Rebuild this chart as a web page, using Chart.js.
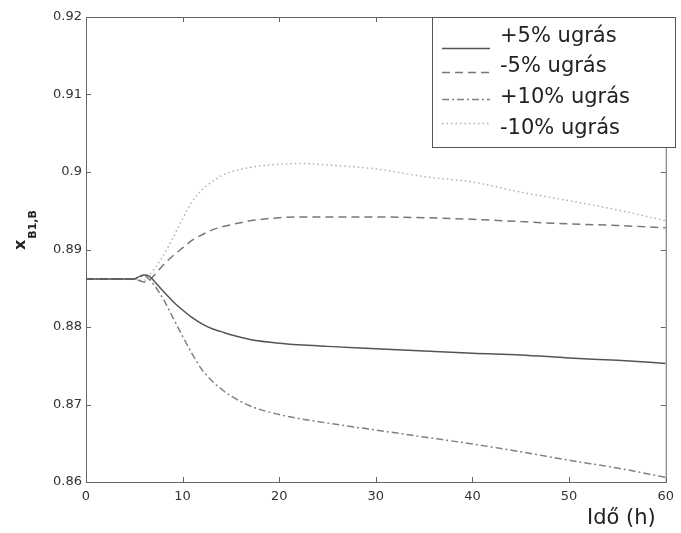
<!DOCTYPE html>
<html>
<head>
<meta charset="utf-8">
<script src="https://cdn.jsdelivr.net/npm/chart.js@4.4.0/dist/chart.umd.min.js"></script>
<style>
    body { margin: 0; background: #fff; }
    #wrap { width: 681px; height: 533px; }
</style>
</head>
<body>
<div id="wrap"><canvas id="chart" width="681" height="533"></canvas></div>
<script>
// Time axis (h)
const times = [0, 2, 4, 5, 5.5, 6, 6.5, 7, 8, 9, 10, 11, 12, 13, 14, 15, 17, 20, 22, 25, 30, 35, 40, 45, 50, 55, 60];

// x_B1,B responses
const plus5 = [0.8862, 0.8862, 0.8862, 0.8862, 0.8865, 0.8867, 0.8866, 0.8860, 0.8846, 0.8833, 0.8822, 0.8812, 0.8804, 0.8798, 0.8794, 0.8790, 0.8784, 0.8779, 0.8777, 0.8775, 0.8772, 0.8769, 0.8766, 0.8764, 0.8760, 0.8757, 0.8753];
const minus5 = [0.8862, 0.8862, 0.8862, 0.8862, 0.8860, 0.8858, 0.8860, 0.8866, 0.8880, 0.8892, 0.8902, 0.8912, 0.8919, 0.8925, 0.8929, 0.8932, 0.8937, 0.8941, 0.8942, 0.8942, 0.8942, 0.8941, 0.8939, 0.8936, 0.8933, 0.8931, 0.8928];
const plus10 = [0.8862, 0.8862, 0.8862, 0.8862, 0.8865, 0.8866, 0.8862, 0.8855, 0.8836, 0.8812, 0.8788, 0.8765, 0.8745, 0.8731, 0.8720, 0.8711, 0.8698, 0.8687, 0.8682, 0.8676, 0.8667, 0.8658, 0.8649, 0.8639, 0.8628, 0.8618, 0.8606];
const minus10 = [0.8862, 0.8862, 0.8862, 0.8862, 0.8860, 0.8860, 0.8866, 0.8874, 0.8892, 0.8915, 0.8940, 0.8962, 0.8977, 0.8987, 0.8995, 0.9000, 0.9006, 0.9010, 0.9011, 0.9009, 0.9004, 0.8994, 0.8987, 0.8974, 0.8963, 0.8951, 0.8937];

const seriesNames = ['+5% ugrás', '-5% ugrás', '+10% ugrás', '-10% ugrás'];
const xTickLabels = ['0', '10', '20', '30', '40', '50', '60'];
const yTickLabels = ['0.86', '0.87', '0.88', '0.89', '0.9', '0.91', '0.92'];

const FONT = 'DejaVu Sans';

function toPoints(values) {
    return values.map((v, i) => ({ x: times[i], y: v }));
}

function makeDataset(label, values, color, dash) {
    return {
        label: label,
        data: toPoints(values),
        borderColor: color,
        borderWidth: 1.5,
        borderDash: dash,
        pointRadius: 0,
        fill: false,
        cubicInterpolationMode: 'monotone'
    };
}

// Frame, inward ticks, legend box and axis titles (MATLAB look)
const matlabDecor = {
    id: 'matlabDecor',
    afterDraw(chart) {
        const ctx = chart.ctx;
        const a = chart.chartArea;
        const xs = chart.scales.x;
        const ys = chart.scales.y;
        ctx.save();

        // box round the axes
        ctx.strokeStyle = '#666';
        ctx.lineWidth = 1;
        ctx.strokeRect(a.left + 0.5, a.top + 0.5, a.right - a.left, a.bottom - a.top);

        // inward ticks on all four sides
        ctx.beginPath();
        xs.ticks.forEach(t => {
            const px = Math.round(xs.getPixelForValue(t.value)) + 0.5;
            ctx.moveTo(px, a.bottom); ctx.lineTo(px, a.bottom - 5);
            ctx.moveTo(px, a.top); ctx.lineTo(px, a.top + 5);
        });
        ys.ticks.forEach(t => {
            const py = Math.round(ys.getPixelForValue(t.value)) + 0.5;
            ctx.moveTo(a.left, py); ctx.lineTo(a.left + 5, py);
            ctx.moveTo(a.right, py); ctx.lineTo(a.right - 5, py);
        });
        ctx.stroke();

        // legend
        const box = { left: 432, top: a.top, right: 675, bottom: 147 };
        ctx.fillStyle = '#fff';
        ctx.fillRect(box.left, box.top, box.right - box.left, box.bottom - box.top);
        ctx.strokeStyle = '#555';
        ctx.strokeRect(box.left + 0.5, box.top + 0.5, box.right - box.left, box.bottom - box.top);

        const sampleY = [48, 72, 99, 123];
        const textY = [37, 67, 98, 129];
        chart.data.datasets.forEach((ds, i) => {
            ctx.save();
            ctx.strokeStyle = ds.borderColor;
            ctx.lineWidth = ds.borderWidth;
            ctx.setLineDash(ds.borderDash || []);
            ctx.beginPath();
            ctx.moveTo(442, sampleY[i] + 0.5);
            ctx.lineTo(490, sampleY[i] + 0.5);
            ctx.stroke();
            ctx.restore();

            ctx.fillStyle = '#222';
            ctx.font = '21px "' + FONT + '"';
            ctx.textAlign = 'left';
            ctx.textBaseline = 'middle';
            ctx.fillText(ds.label, 500, textY[i]);
        });

        // x axis title
        ctx.fillStyle = '#222';
        ctx.font = '21px "' + FONT + '"';
        ctx.textAlign = 'left';
        ctx.textBaseline = 'middle';
        ctx.fillText('Idő (h)', 587, 519);

        // y axis title: x with subscript B1,B
        ctx.save();
        ctx.translate(25, 250);
        ctx.rotate(-Math.PI / 2);
        ctx.textAlign = 'left';
        ctx.textBaseline = 'alphabetic';
        ctx.font = 'bold 16px "' + FONT + '"';
        ctx.fillText('x', 0, 0);
        const w = ctx.measureText('x').width;
        ctx.font = 'bold 11px "' + FONT + '"';
        ctx.fillText('B1,B', w + 1, 11);
        ctx.restore();

        ctx.restore();
    }
};

function createChart() {
    const ctx = document.getElementById('chart').getContext('2d');
    return new Chart(ctx, {
        type: 'line',
        data: {
            datasets: [
                makeDataset(seriesNames[0], plus5, '#555', []),
                makeDataset(seriesNames[1], minus5, '#777', [8, 5]),
                makeDataset(seriesNames[2], plus10, '#808080', [7, 3, 2, 3]),
                makeDataset(seriesNames[3], minus10, '#b0b0b0', [1.5, 3])
            ]
        },
        options: {
            responsive: false,
            animation: false,
            layout: { padding: { left: 0, top: 17, right: 8, bottom: 0 } },
            plugins: {
                legend: { display: false },
                tooltip: { enabled: false }
            },
            scales: {
                x: {
                    type: 'linear',
                    min: 0,
                    max: 60,
                    afterFit: s => { s.height = 51; },
                    afterBuildTicks: s => {
                        s.ticks = xTickLabels.map(t => ({ value: Number(t) }));
                    },
                    grid: { drawOnChartArea: false, drawTicks: false },
                    border: { color: '#666', width: 1 },
                    ticks: {
                        autoSkip: false,
                        maxRotation: 0,
                        padding: 7,
                        color: '#333',
                        font: { family: FONT, size: 13 },
                        callback: (v, i) => xTickLabels[i]
                    }
                },
                y: {
                    min: 0.86,
                    max: 0.92,
                    afterFit: s => { s.width = 86; },
                    afterBuildTicks: s => {
                        s.ticks = yTickLabels.map(t => ({ value: Number(t) }));
                    },
                    grid: { drawOnChartArea: false, drawTicks: false },
                    border: { color: '#666', width: 1 },
                    ticks: {
                        autoSkip: false,
                        padding: 4,
                        color: '#333',
                        font: { family: FONT, size: 13 },
                        callback: (v, i) => yTickLabels[i]
                    }
                }
            }
        },
        plugins: [matlabDecor]
    });
}

document.addEventListener('DOMContentLoaded', createChart);
</script>
</body>
</html>
